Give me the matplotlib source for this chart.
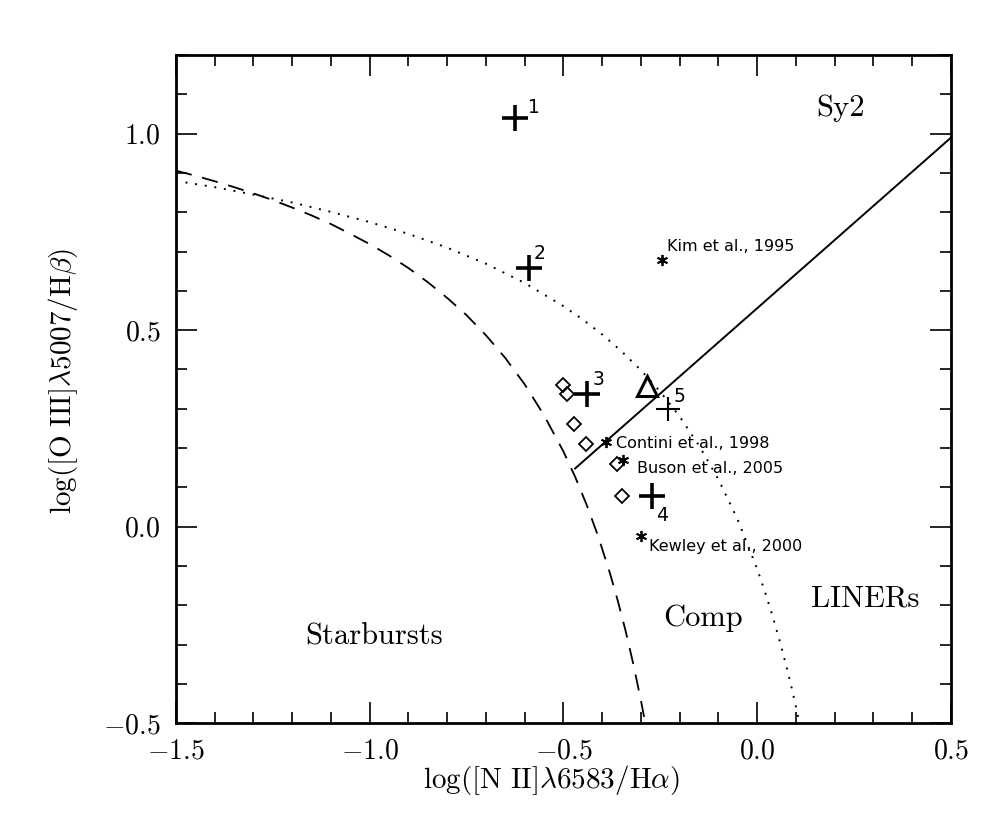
import matplotlib
matplotlib.use('Agg')
import matplotlib.pyplot as plt

plt.rcParams['font.family'] = ['cmr10', 'DejaVu Serif']
plt.rcParams['mathtext.fontset'] = 'cm'
plt.rcParams['axes.formatter.use_mathtext'] = True
plt.rcParams['axes.unicode_minus'] = True

# demarcation curves
kauff_x = [-1.5, -1.45, -1.4, -1.35, -1.3, -1.25, -1.2, -1.15, -1.1, -1.05, -1.0,
           -0.95, -0.9, -0.85, -0.8, -0.75, -0.7, -0.65, -0.6, -0.55, -0.5, -0.47,
           -0.44, -0.41, -0.38, -0.36, -0.34, -0.32, -0.30, -0.289]
kauff_y = [0.906, 0.893, 0.879, 0.864, 0.848, 0.831, 0.812, 0.792, 0.770, 0.745, 0.719,
           0.690, 0.658, 0.622, 0.582, 0.538, 0.487, 0.429, 0.362, 0.283, 0.191, 0.127,
           0.055, -0.026, -0.119, -0.188, -0.264, -0.349, -0.443, -0.50]
kew_x = [-1.5, -1.4, -1.3, -1.2, -1.1, -1.0, -0.9, -0.8, -0.7, -0.6, -0.5, -0.45,
         -0.4, -0.35, -0.3, -0.25, -0.2, -0.15, -0.1, -0.05, 0.0, 0.02, 0.04, 0.06,
         0.08, 0.09, 0.10, 0.109]
kew_y = [0.880, 0.864, 0.845, 0.825, 0.801, 0.775, 0.745, 0.710, 0.669, 0.620, 0.561, 0.527,
         0.489, 0.446, 0.398, 0.343, 0.280, 0.206, 0.120, 0.017, -0.108, -0.166, -0.229, -0.298,
         -0.374, -0.415, -0.459, -0.50]
sy2_x = [-0.47, 0.5]
sy2_y = [0.148, 0.99]

# numbered objects (big plus)
big_x = [-0.625, -0.589, -0.439, -0.272]
big_y = [1.04, 0.657, 0.338, 0.079]
small_x = [-0.230]
small_y = [0.300]
tri_x = [-0.285]
tri_y = [0.359]

dia_x = [-0.501, -0.491, -0.473, -0.442, -0.362, -0.349]
dia_y = [0.361, 0.338, 0.260, 0.211, 0.160, 0.079]

lit_x = [-0.246, -0.390, -0.346, -0.300]
lit_y = [0.679, 0.216, 0.170, -0.023]
lit_names = ['Kim et al., 1995', 'Contini et al., 1998', 'Buson et al., 2005', 'Kewley et al., 2000']

fig = plt.figure(figsize=(10.02, 8.35), dpi=100)
ax = fig.add_axes([0.1756, 0.134, 0.7735, 0.800])

ax.plot(kauff_x, kauff_y, color='black', lw=1.3, dashes=(9, 6))
ax.plot(kew_x, kew_y, color='black', lw=1.4, dashes=(1, 4))
ax.plot(sy2_x, sy2_y, color='black', lw=1.4)

ax.plot(big_x, big_y, ls='none', marker='+', ms=19, mew=2.6, color='black')
ax.plot(small_x, small_y, ls='none', marker='+', ms=17, mew=1.5, color='black')
ax.plot(tri_x, tri_y, ls='none', marker='^', ms=15, mew=2.2, mfc='none', mec='black')
ax.plot(dia_x, dia_y, ls='none', marker='D', ms=7, mew=1.3, mfc='none', mec='black')
ax.plot(lit_x, lit_y, ls='none', marker=(6, 2, 0), ms=8, mew=1.3, color='black')

sans = ['DejaVu Sans']
lit_pos = [(-0.233, 0.702), (-0.365, 0.201), (-0.310, 0.137), (-0.279, -0.061)]
for (tx, ty), name in zip(lit_pos, lit_names):
    ax.text(tx, ty, name, family=sans, fontsize=11.5, ha='left', va='baseline')

num_pos = [(-0.592, 1.053, '1'), (-0.576, 0.682, '2'), (-0.424, 0.361, '3'),
           (-0.261, 0.015, '4'), (-0.215, 0.318, '5')]
for tx, ty, s in num_pos:
    ax.text(tx, ty, s, family=sans, fontsize=13.5, ha='left', va='baseline')

ax.text(0.214, 1.066, 'Sy2', fontsize=22, ha='center', va='center')
ax.text(0.278, -0.183, 'LINERs', fontsize=22, ha='center', va='center')
ax.text(-0.140, -0.232, 'Comp', fontsize=22, ha='center', va='center')
ax.text(-0.989, -0.280, 'Starbursts', fontsize=22, ha='center', va='center')

ax.set_xlim(-1.5, 0.5)
ax.set_ylim(-0.5, 1.2)
ax.set_xticks([-1.5, -1.0, -0.5, 0.0, 0.5])
ax.set_yticks([-0.5, 0.0, 0.5, 1.0])
ax.set_xticklabels(['$-1.5$', '$-1.0$', '$-0.5$', '$0.0$', '$0.5$'])
ax.set_yticklabels(['$-0.5$', '$0.0$', '$0.5$', '$1.0$'])
ax.xaxis.set_minor_locator(plt.MultipleLocator(0.1))
ax.yaxis.set_minor_locator(plt.MultipleLocator(0.1))
ax.tick_params(which='both', direction='in', top=True, right=True, labelsize=20, width=1.2, pad=11)
ax.tick_params(which='major', length=15)
ax.tick_params(which='minor', length=8)
for sp in ax.spines.values():
    sp.set_linewidth(2)

ax.set_xlabel(r'$\log([{\rm N\ II}]\lambda6583/{\rm H}\alpha)$', fontsize=21)
ax.set_ylabel(r'$\log([{\rm O\ III}]\lambda5007/{\rm H}\beta)$', fontsize=21)
ax.xaxis.set_label_coords(0.484, -0.060)
ax.yaxis.set_label_coords(-0.124, 0.512)

fig.savefig('out.png', dpi=100)
